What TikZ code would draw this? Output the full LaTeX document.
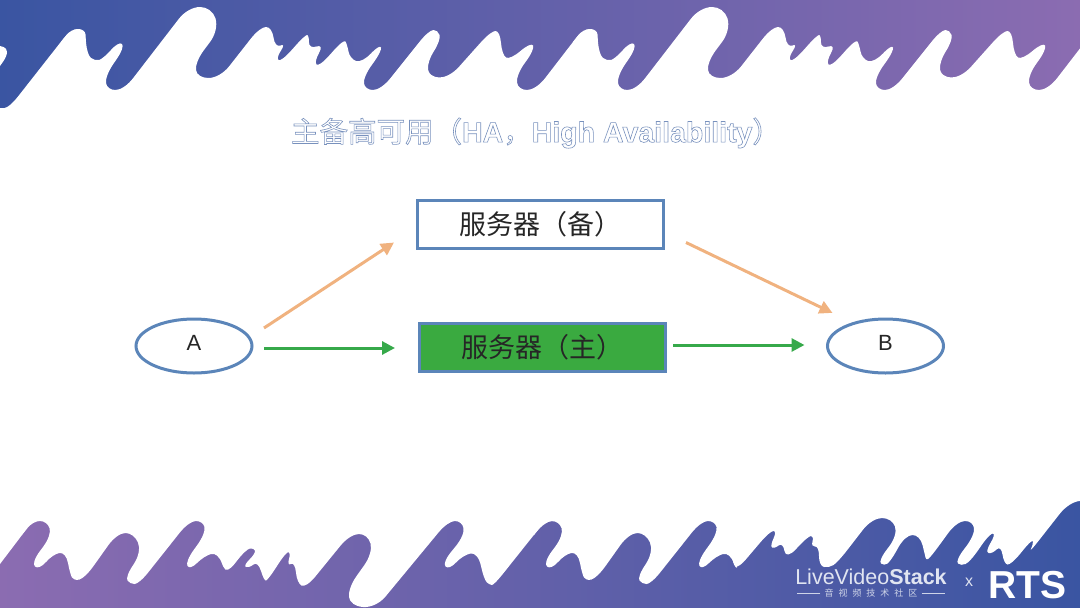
\documentclass[tikz,border=0pt]{standalone}
\usepackage{fontspec}
\setmainfont{Liberation Sans}
\newfontfamily\cjk{Noto Sans CJK SC}
\usetikzlibrary{arrows.meta,shapes.geometric}
\definecolor{bandblue}{HTML}{3A55A2}
\definecolor{bandpurple}{HTML}{8B6CB1}
\definecolor{edgeblue}{HTML}{5B85B9}
\definecolor{maingreen}{HTML}{3AAA40}
\definecolor{linegreen}{HTML}{36A94A}
\definecolor{lineorange}{HTML}{F0B27F}
\newcommand{\outlined}[1]{\special{pdf:code q 1 Tr 0.6 w 0.47 0.57 0.74 RG}#1\special{pdf:code 0 Tr Q}}
% white shape through a list of corners, each corner cut by at most 15pt
\newcommand{\softblob}[1]{%
	\gdef\softpath{}%
	\foreach \x/\y [count=\n] in {#1} {
		\ifnum\n=1 \xdef\softpath{(\x,\y)}\fi
		\ifnum\n>2
			\pgfmathsetmacro\da{min(15,veclen(\xa-\xb,\ya-\yb)/2)/veclen(\xa-\xb,\ya-\yb)}
			\pgfmathsetmacro\dc{min(15,veclen(\x-\xb,\y-\yb)/2)/veclen(\x-\xb,\y-\yb)}
			\pgfmathsetmacro\pax{\xb+(\xa-\xb)*\da}
			\pgfmathsetmacro\pay{\yb+(\ya-\yb)*\da}
			\pgfmathsetmacro\pcx{\xb+(\x-\xb)*\dc}
			\pgfmathsetmacro\pcy{\yb+(\y-\yb)*\dc}
			\pgfmathsetmacro\qax{\pax+(\xb-\pax)*.6}
			\pgfmathsetmacro\qay{\pay+(\yb-\pay)*.6}
			\pgfmathsetmacro\qcx{\pcx+(\xb-\pcx)*.6}
			\pgfmathsetmacro\qcy{\pcy+(\yb-\pcy)*.6}
			\xdef\softpath{\softpath -- (\pax,\pay) .. controls (\qax,\qay) and (\qcx,\qcy) .. (\pcx,\pcy)}
		\fi
		\global\let\xa\xb \global\let\ya\yb
		\global\let\xb\x \global\let\yb\y
	}
	\fill[white] \softpath -- (\xb,\yb) -- cycle;
}
\tikzset{
	station/.style={draw=edgeblue, line width=3pt, ellipse, outer sep=0pt, minimum width=116pt, minimum height=54pt, font=\fontsize{22}{22}\selectfont, text=black!85},
	serverbox/.style={draw=edgeblue, line width=3pt, outer sep=0pt, minimum width=246pt, minimum height=48pt, font=\cjk\fontsize{27}{27}\selectfont, text=black!85},
	backupline/.style={lineorange, line width=3pt, -{Triangle[length=13pt,width=13pt]}},
	mainline/.style={linegreen, line width=3pt, -{Triangle[length=13pt,width=13pt]}}
}
\begin{document}
\begin{tikzpicture}[x=1pt, y=-1pt]
	\useasboundingbox (0,0) rectangle (1080,608);
	% top band
	\shade[left color=bandblue, right color=bandpurple] (0,0) rectangle (1080,112);
	\softblob{0/46,7/48,7/56,0/66}
	\softblob{0/108,9/108,71/29,85/29,86/40,86/130,0/130}
	\foreach \dx in {0,512} {
		\begin{scope}[xshift=\dx]
			\softblob{61/42,71/29,85/29,87/55,95/61,103/59,119/41,125/47,105/76,107/90,124/90,188/7,212/7,219/30,195/62,197/78,220/78,260/27,272/27,275/48,286/43,276/58,281/62,306/34,309/36,309/49,324/44,314/62,319/67,344/39,347/44,350/59,362/63,380/44,382/51,363/77,365/90,381/90,429/30,438/30,441/40,427/62,429/77,449/78,491/31,500/31,502/55,510/60,531/42,535/49,516/75,518/90,536/90,583/29,597/29,598/40,598/130,61/130}
		\end{scope}
	}
	% bottom band
	\shade[left color=bandpurple, right color=bandblue] (0,498) rectangle (1080,608);
	\fill[white] (0,564) -- (22,535) -- (22,490) -- (0,490) -- cycle;
	\foreach \dx in {0,512} {
		\begin{scope}[xshift=\dx]
			\softblob{22/535,33/521,47/521,52/535,31/563,39/570,53/554,66/552,70/574,74/581,85/578,117/533,134/533,142/552,125/577,130/584,139/584,189/521,203/521,206/533,185/562,190/570,204/556,218/552,226/575,226/480,22/480}
		\end{scope}
	}
	\softblob{222/560,226/575,246/549,254/548,256/553,243/566,249/568,258/561,264/581,268/580,286/552,291/552,287/566,295/562,297/583,306/588,350/534,368/534,373/553,348/588,350/606,376/608,448/521,462/521,465/535,442/563,449/570,463/555,478/552,484/580,490/585,494/585,545/521,559/521,560/526,560/480,222/480}
	\softblob{732/558,736/571,770/531,777/531,770/546,774/549,783/542,786/560,808/536,814/536,811/547,819/546,819/566,829/568,838/562,872/518,892/518,898/535,878/561,884/566,891/561,905/535,920/535,925/555,926/560,930/558,957/521,973/521,975/535,955/561,961/566,970/562,990/533,996/534,985/552,992/554,1001/545,1004/564,1011/565,1033/538,1033/545,1029/553,1069/502,1090/500,1090/480,732/480}
	% title
	\node (title) at (536,133) {\outlined{\fontsize{28.5}{29}\selectfont\cjk 主备高可用（\rmfamily\bfseries HA\mdseries\cjk ，\rmfamily\bfseries High Availability\mdseries\cjk ）}};
	% nodes
	\node[station] (a) at (194,346) {\raisebox{6pt}{A}};
	\node[station] (b) at (885.5,346) {\raisebox{6pt}{B}};
	\node[serverbox] (backup) at (540,224.5) {\raisebox{-1pt}{服务器（备）}};
	\node[serverbox, fill=maingreen] (main) at (542,347.5) {\raisebox{-2pt}{服务器（主）}};
	% connectors
	\draw[backupline] ([shift={(12,-18)}]a.east) -- ([shift={(-23,-6)}]backup.south west);
	\draw[mainline] ([shift={(12,2)}]a.east) -- ([shift={(-24,0.5)}]main.west);
	\draw[backupline] ([shift={(23,-6)}]backup.south east) -- ([shift={(-12,-14)}]b.north west);
	\draw[mainline] ([shift={(8,-2.5)}]main.east) -- ([shift={(-23,-1)}]b.west);
	% logo
	\node[text=white!85!bandblue, font=\fontsize{21.5}{21.5}\selectfont, inner sep=0pt] (stack) at (871,577) {LiveVideo\textbf{Stack}};
	\node[text=white!75!bandblue, font=\cjk\fontsize{9}{9}\selectfont\addfontfeature{LetterSpace=55}, inner sep=0pt] (sub) at (871,593) {音视频技术社区};
	\draw[white!75!bandblue, line width=.6pt] ([xshift=-4]sub.west) -- ++(-23,0);
	\draw[white!75!bandblue, line width=.6pt] ([xshift=4]sub.east) -- ++(23,0);
	\node[text=white!85!bandblue, font=\fontsize{16}{16}\selectfont, inner sep=0pt] (cross) at (969,582) {x};
	\node[text=white, font=\bfseries\fontsize{39}{39}\selectfont, inner sep=0pt, text height=28pt, text depth=0pt] (rts) at (1027.5,584) {RTS};
\end{tikzpicture}
\end{document}
